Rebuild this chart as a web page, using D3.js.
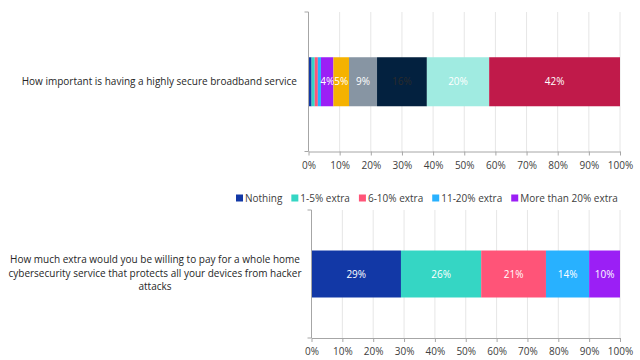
<!DOCTYPE html>
<html><head><meta charset="utf-8">
<script src="https://cdn.jsdelivr.net/npm/d3@7"></script>
<style>
html,body{margin:0;padding:0;background:#fff;}
svg{display:block;font-family:"Open Sans",sans-serif;}
</style></head>
<body><svg id="c" width="640" height="360"></svg>
<script>
// ---- data ----
const topQuestion = ["How important is having a highly secure broadband service"];
const topSeries = ["1","2","3","4","5","6","7","8","9","10"];
const topValues = [1, 1, 1, 1, 4, 5, 9, 16, 20, 42];
const topColors = ["#1238A6","#35D6C4","#FF5478","#28B1FF","#9B1FF5","#F5B200","#8795A3","#03213F","#A0EBE1","#C01A4A"];
const topLabelColors = ["#fff","#fff","#fff","#fff","#fff","#fff","#fff","#2b2b2b","#fff","#fff"];

const botQuestionLines = ["How much extra would you be willing to pay for a whole home","cybersecurity service that protects all your devices from hacker","attacks"];
const botQuestion = ["How much extra would you be willing to pay for a whole home cybersecurity service that protects all your devices from hacker attacks"];
const botSeries = ["Nothing","1-5% extra","6-10% extra","11-20% extra","More than 20% extra"];
const botValues = [29, 26, 21, 14, 10];
const botColors = ["#1238A6","#35D6C4","#FF5478","#28B1FF","#9B1FF5"];

const tickValues = [0,10,20,30,40,50,60,70,80,90,100];

const FS = 10;
const svg = d3.select("#c");

function panel(cfg){
  const x = d3.scaleLinear().domain([0,100]).range([cfg.x0, cfg.x1]);
  const y = d3.scaleBand().domain(cfg.question).range([cfg.y0, cfg.y1]).paddingInner(cfg.pad).paddingOuter(cfg.pad);
  const g = svg.append("g");
  // gridlines
  g.append("g").selectAll("line").data(tickValues.slice(1)).join("line")
    .attr("x1", d=>x(d)).attr("x2", d=>x(d)).attr("y1", cfg.y0).attr("y2", cfg.y1)
    .attr("stroke", "#e6e6e6").attr("stroke-width", 1);
  // stacked bars
  const stack = [];
  let acc = 0;
  cfg.values.forEach((v,i)=>{ stack.push({s:cfg.series[i], a:acc, b:acc+v, v:v, i:i}); acc += v; });
  const q = cfg.question[0];
  g.append("g").selectAll("rect").data(stack).join("rect")
    .attr("x", d=>x(d.a)).attr("width", d=>x(d.b)-x(d.a))
    .attr("y", y(q)).attr("height", y.bandwidth())
    .attr("fill", (d)=>cfg.colors[d.i]);
  g.append("g").selectAll("text").data(stack.filter(d=>d.v>=cfg.minLabel)).join("text")
    .attr("x", d=>(x(d.a)+x(d.b))/2).attr("y", y(q)+y.bandwidth()/2)
    .attr("dy","0.35em").attr("text-anchor","middle")
    .attr("font-size", FS).attr("fill", d=>cfg.labelColors[d.i])
    .text(d=>d.v+"%");
  // x axis
  const xa = g.append("g").attr("transform",`translate(0,${cfg.y1})`)
    .call(d3.axisBottom(x).tickValues(tickValues).tickFormat(d=>d+"%").tickSize(4).tickSizeOuter(0));
  xa.select(".domain").attr("stroke","#a6a6a6");
  xa.selectAll(".tick line").attr("stroke","#a6a6a6");
  xa.selectAll(".tick text").attr("font-family","'Open Sans',sans-serif").attr("font-size",FS).attr("fill","#404040").attr("dy","1em");
  // y axis (category)
  const ya = g.append("g").attr("transform",`translate(${cfg.x0},0)`)
    .call(d3.axisLeft(y).tickSize(0).tickFormat(""));
  ya.select(".domain").attr("stroke","#a6a6a6").attr("d", `M-4,${cfg.y0}H0V${cfg.y1}H-4`);
  return {x,y};
}

const p1 = panel({question: topQuestion, series: topSeries, values: topValues, colors: topColors, labelColors: topLabelColors,
  x0: 308.5, x1: 620, y0: 12, y1: 151.5, pad: 0.48, minLabel: 4});
svg.append("text").attr("x", 297).attr("y", p1.y(topQuestion[0]) + p1.y.bandwidth()/2).attr("dy","0.35em")
  .attr("text-anchor","end").attr("font-size",FS).attr("fill","#262626").text(topQuestion[0]);

const p2 = panel({question: botQuestion, series: botSeries, values: botValues, colors: botColors, labelColors: ["#fff","#fff","#fff","#fff","#fff"],
  x0: 311.5, x1: 620, y0: 210, y1: 338, pad: 0.463, minLabel: 4});
const cy = p2.y(botQuestion[0]) + p2.y.bandwidth()/2;
svg.append("text").attr("text-anchor","middle").attr("font-size",FS).attr("fill","#262626")
  .selectAll("tspan").data(botQuestionLines).join("tspan")
  .attr("x", 155).attr("y", (d,i)=>cy + (i-1)*13.5 - 1).attr("dy","0.35em").text(d=>d);

// legend
const leg = svg.append("g").attr("font-size",FS).attr("fill","#404040");
let lx = 236;
botSeries.forEach((s,i)=>{
  leg.append("rect").attr("x", lx).attr("y", 194.5).attr("width",7).attr("height",7).attr("fill", botColors[i]);
  const t = leg.append("text").attr("x", lx+9).attr("y", 198).attr("dy","0.35em").text(s);
  lx += 9 + t.node().getComputedTextLength() + 9;
});
</script></body></html>
